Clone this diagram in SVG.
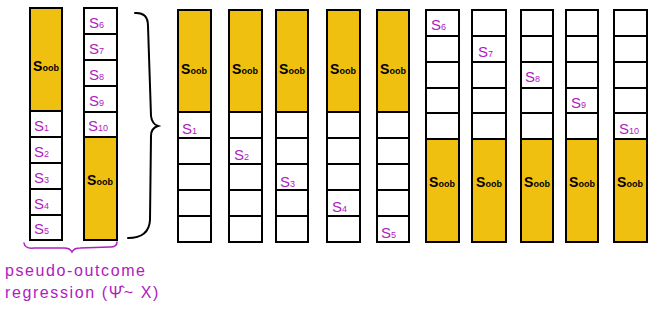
<svg xmlns="http://www.w3.org/2000/svg" width="665" height="314" viewBox="0 0 665 314">
<style>
.box{stroke:#000;stroke-width:2;}
.o{fill:#f0c010;}
.w{fill:#fff;}
.sl{font-family:"Liberation Sans",Arial,sans-serif;font-size:15px;fill:#b020c0;}
.so{font-family:"Liberation Sans",Arial,sans-serif;font-size:14px;fill:#000;font-weight:bold;text-anchor:middle;}
.sub{font-size:9px;}
.br{fill:none;stroke:#000;stroke-width:2;stroke-linecap:round;}
.pb{fill:none;stroke:#b020c0;stroke-width:1.5;stroke-linecap:round;}
.cap{font-family:"Liberation Sans",Arial,sans-serif;font-size:16px;fill:#b020c0;letter-spacing:1.6px;}
</style>
<rect width="665" height="314" fill="#fff"/>
<g id="col-left-1">
<rect class="box o" x="30" y="8" width="32" height="103"/>
<rect class="box w" x="30" y="111" width="32" height="26"/>
<rect class="box w" x="30" y="137" width="32" height="26"/>
<rect class="box w" x="30" y="163" width="32" height="26"/>
<rect class="box w" x="30" y="189" width="32" height="26"/>
<rect class="box w" x="30" y="215" width="32" height="25"/>
<text class="so" x="46" y="71">S<tspan class="sub">oob</tspan></text>
<text class="sl" x="34" y="131">S<tspan class="sub">1</tspan></text>
<text class="sl" x="34" y="157">S<tspan class="sub">2</tspan></text>
<text class="sl" x="34" y="183">S<tspan class="sub">3</tspan></text>
<text class="sl" x="34" y="209">S<tspan class="sub">4</tspan></text>
<text class="sl" x="34" y="234">S<tspan class="sub">5</tspan></text>
</g>
<g id="col-left-2">
<rect class="box w" x="84" y="8" width="33" height="26"/>
<rect class="box w" x="84" y="34" width="33" height="26"/>
<rect class="box w" x="84" y="60" width="33" height="26"/>
<rect class="box w" x="84" y="86" width="33" height="26"/>
<rect class="box w" x="84" y="112" width="33" height="25"/>
<rect class="box o" x="84" y="137" width="33" height="103"/>
<text class="sl" x="89" y="28">S<tspan class="sub">6</tspan></text>
<text class="sl" x="89" y="54">S<tspan class="sub">7</tspan></text>
<text class="sl" x="89" y="80">S<tspan class="sub">8</tspan></text>
<text class="sl" x="89" y="106">S<tspan class="sub">9</tspan></text>
<text class="sl" x="88" y="131">S<tspan class="sub">10</tspan></text>
<text class="so" x="100" y="185">S<tspan class="sub">oob</tspan></text>
</g>
<g id="fold-1">
<rect class="box o" x="178" y="10" width="33" height="102"/>
<rect class="box w" x="178" y="112" width="33" height="26"/>
<rect class="box w" x="178" y="138" width="33" height="26"/>
<rect class="box w" x="178" y="164" width="33" height="26"/>
<rect class="box w" x="178" y="190" width="33" height="26"/>
<rect class="box w" x="178" y="216" width="33" height="26"/>
<text class="so" x="194" y="74">S<tspan class="sub">oob</tspan></text>
<text class="sl" x="182" y="134">S<tspan class="sub">1</tspan></text>
</g>
<g id="fold-2">
<rect class="box o" x="229" y="10" width="33" height="102"/>
<rect class="box w" x="229" y="112" width="33" height="26"/>
<rect class="box w" x="229" y="138" width="33" height="26"/>
<rect class="box w" x="229" y="164" width="33" height="26"/>
<rect class="box w" x="229" y="190" width="33" height="26"/>
<rect class="box w" x="229" y="216" width="33" height="26"/>
<text class="so" x="245" y="74">S<tspan class="sub">oob</tspan></text>
<text class="sl" x="234" y="160">S<tspan class="sub">2</tspan></text>
</g>
<g id="fold-3">
<rect class="box o" x="276" y="10" width="32" height="102"/>
<rect class="box w" x="276" y="112" width="32" height="26"/>
<rect class="box w" x="276" y="138" width="32" height="26"/>
<rect class="box w" x="276" y="164" width="32" height="26"/>
<rect class="box w" x="276" y="190" width="32" height="26"/>
<rect class="box w" x="276" y="216" width="32" height="26"/>
<text class="so" x="292" y="74">S<tspan class="sub">oob</tspan></text>
<text class="sl" x="280" y="187">S<tspan class="sub">3</tspan></text>
</g>
<g id="fold-4">
<rect class="box o" x="327" y="10" width="33" height="102"/>
<rect class="box w" x="327" y="112" width="33" height="26"/>
<rect class="box w" x="327" y="138" width="33" height="26"/>
<rect class="box w" x="327" y="164" width="33" height="26"/>
<rect class="box w" x="327" y="190" width="33" height="26"/>
<rect class="box w" x="327" y="216" width="33" height="26"/>
<text class="so" x="343" y="74">S<tspan class="sub">oob</tspan></text>
<text class="sl" x="332" y="212">S<tspan class="sub">4</tspan></text>
</g>
<g id="fold-5">
<rect class="box o" x="377" y="10" width="32" height="102"/>
<rect class="box w" x="377" y="112" width="32" height="26"/>
<rect class="box w" x="377" y="138" width="32" height="26"/>
<rect class="box w" x="377" y="164" width="32" height="26"/>
<rect class="box w" x="377" y="190" width="32" height="26"/>
<rect class="box w" x="377" y="216" width="32" height="26"/>
<text class="so" x="393" y="74">S<tspan class="sub">oob</tspan></text>
<text class="sl" x="381" y="238">S<tspan class="sub">5</tspan></text>
</g>
<g id="fold-6">
<rect class="box w" x="426" y="10" width="33" height="26"/>
<rect class="box w" x="426" y="36" width="33" height="26"/>
<rect class="box w" x="426" y="62" width="33" height="26"/>
<rect class="box w" x="426" y="88" width="33" height="25"/>
<rect class="box w" x="426" y="113" width="33" height="26"/>
<rect class="box o" x="426" y="139" width="33" height="103"/>
<text class="sl" x="431" y="30">S<tspan class="sub">6</tspan></text>
<text class="so" x="442" y="187">S<tspan class="sub">oob</tspan></text>
</g>
<g id="fold-7">
<rect class="box w" x="472" y="10" width="34" height="26"/>
<rect class="box w" x="472" y="36" width="34" height="26"/>
<rect class="box w" x="472" y="62" width="34" height="26"/>
<rect class="box w" x="472" y="88" width="34" height="25"/>
<rect class="box w" x="472" y="113" width="34" height="26"/>
<rect class="box o" x="472" y="139" width="34" height="103"/>
<text class="sl" x="478" y="57">S<tspan class="sub">7</tspan></text>
<text class="so" x="489" y="187">S<tspan class="sub">oob</tspan></text>
</g>
<g id="fold-8">
<rect class="box w" x="521" y="10" width="32" height="26"/>
<rect class="box w" x="521" y="36" width="32" height="26"/>
<rect class="box w" x="521" y="62" width="32" height="26"/>
<rect class="box w" x="521" y="88" width="32" height="25"/>
<rect class="box w" x="521" y="113" width="32" height="26"/>
<rect class="box o" x="521" y="139" width="32" height="103"/>
<text class="sl" x="525" y="82">S<tspan class="sub">8</tspan></text>
<text class="so" x="537" y="187">S<tspan class="sub">oob</tspan></text>
</g>
<g id="fold-9">
<rect class="box w" x="566" y="10" width="32" height="26"/>
<rect class="box w" x="566" y="36" width="32" height="26"/>
<rect class="box w" x="566" y="62" width="32" height="26"/>
<rect class="box w" x="566" y="88" width="32" height="25"/>
<rect class="box w" x="566" y="113" width="32" height="26"/>
<rect class="box o" x="566" y="139" width="32" height="103"/>
<text class="sl" x="571" y="108">S<tspan class="sub">9</tspan></text>
<text class="so" x="582" y="187">S<tspan class="sub">oob</tspan></text>
</g>
<g id="fold-10">
<rect class="box w" x="614" y="10" width="33" height="26"/>
<rect class="box w" x="614" y="36" width="33" height="26"/>
<rect class="box w" x="614" y="62" width="33" height="26"/>
<rect class="box w" x="614" y="88" width="33" height="25"/>
<rect class="box w" x="614" y="113" width="33" height="26"/>
<rect class="box o" x="614" y="139" width="33" height="103"/>
<text class="sl" x="619" y="134">S<tspan class="sub">10</tspan></text>
<text class="so" x="630" y="187">S<tspan class="sub">oob</tspan></text>
</g>
<g id="braces">
<path class="br" d="M135,13 Q148,12 148,26 L151,116 Q152,124 158,126 Q151,128 151,136 L150,220 Q149,238 128,238"/>
<path class="pb" d="M24,243 Q25,249 34,248 L64,248 Q70,248 72,252 Q74,248 80,248 L110,247 Q117,247 117,242"/>
</g>
<g id="caption">
<text class="cap" x="5" y="276">pseudo-outcome</text>
<text class="cap" x="5" y="298">regression (Ψ̂~ X)</text>
</g>
</svg>
